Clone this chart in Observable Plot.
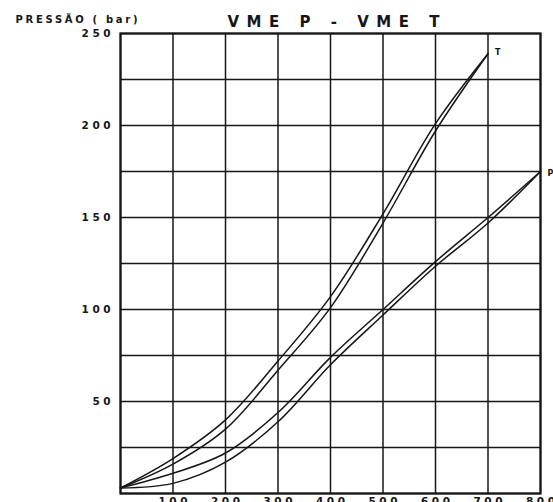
<!DOCTYPE html>
<html><head><meta charset="utf-8">
<script src="https://cdn.jsdelivr.net/npm/d3@7"></script>
<script src="https://cdn.jsdelivr.net/npm/@observablehq/plot@0.6"></script>
<style>body{margin:0;background:#fff}</style>
</head><body><div id="chart"></div>
<script>
// Texts
const titulo = "VME P - VME T";
const rotuloY = "PRESSÃO ( bar)";
// Axis ticks
const yTicks = [50, 100, 150, 200, 250];
const xTicks = [100, 200, 300, 400, 500, 600, 700, 800];
const yGrid = [0, 25, 50, 75, 100, 125, 150, 175, 200, 225, 250];
const xGrid = [0, 100, 200, 300, 400, 500, 600, 700, 800];
// Curve T (upper branch)
const tSupX = [0, 100, 200, 300, 400, 500, 600, 700];
const tSupY = [3, 19, 40, 72, 107, 152, 201, 239];
// Curve T (lower branch)
const tInfX = [0, 100, 200, 300, 400, 500, 600, 700];
const tInfY = [3, 16, 35, 67, 101, 147, 197, 239];
// Curve P (upper branch)
const pSupX = [0, 100, 200, 300, 400, 500, 600, 700, 800];
const pSupY = [3, 11, 22, 44, 74, 100, 126, 150, 175];
// Curve P (lower branch)
const pInfX = [0, 100, 200, 300, 400, 500, 600, 700, 800];
const pInfY = [3, 5.5, 17, 39, 70, 97, 123.5, 147, 175];

const curves = [
  ["T-sup", tSupX, tSupY], ["T-inf", tInfX, tInfY],
  ["P-sup", pSupX, pSupY], ["P-inf", pInfX, pInfY]
];
const data = curves.flatMap(([s, xs, ys]) => xs.map((x, i) => ({serie: s, x, y: ys[i]})));
const labelT = [{label: "T", x: tSupX[tSupX.length - 1], y: tSupY[tSupY.length - 1]}];
const labelP = [{label: "P", x: pSupX[pSupX.length - 1], y: pSupY[pSupY.length - 1]}];

const ink = "#161616";
const chart = Plot.plot({
  width: 553, height: 502,
  marginLeft: 120, marginRight: 13, marginTop: 33, marginBottom: 9,
  style: {fontFamily: "DejaVu Sans", fontWeight: "bold", background: "#fff", color: ink, overflow: "hidden"},
  x: {domain: [0, 800]},
  y: {domain: [0, 250]},
  marks: [
    Plot.ruleY(yGrid, {stroke: ink, strokeWidth: 1.5}),
    Plot.ruleX(xGrid, {stroke: ink, strokeWidth: 1.5}),
    Plot.frame({stroke: ink, strokeWidth: 2.2}),
    Plot.axisY(yTicks, {tickSize: 0, tickPadding: 6.5, fontSize: 10.5, label: null}),
    Plot.axisX(xTicks, {tickSize: 0, tickPadding: 4, fontSize: 10.5, label: null, dx: 1.75}),
    Plot.line(data, {x: "x", y: "y", z: "serie", curve: "catmull-rom", stroke: ink, strokeWidth: 1.5}),
    Plot.text(labelT, {x: "x", y: "y", text: "label", dx: 7, dy: -1, textAnchor: "start", fontSize: 8}),
    Plot.text(labelP, {x: "x", y: "y", text: "label", dx: 7, dy: 2, textAnchor: "start", fontSize: 8}),
    Plot.text([titulo], {frameAnchor: "top-left", dx: 213, dy: -17, textAnchor: "middle", fontSize: 15, fill: ink}),
    Plot.text([rotuloY], {frameAnchor: "top-left", dx: -105, dy: -18, textAnchor: "start", fontSize: 10, fill: ink})
  ]
});
document.getElementById("chart").appendChild(chart);
const svg = chart.tagName.toLowerCase() === "svg" ? chart : chart.querySelector("svg");
d3.select(svg).selectAll('g[aria-label$="tick label"] text').style("letter-spacing", "3.5px");
d3.select(svg).selectAll("text").each(function () {
  const t = this.textContent;
  if (t === titulo) { this.setAttribute("textLength", 212); this.setAttribute("lengthAdjust", "spacing"); }
  if (t === rotuloY) { this.setAttribute("textLength", 122); this.setAttribute("lengthAdjust", "spacing"); }
});
</script>
</body></html>
